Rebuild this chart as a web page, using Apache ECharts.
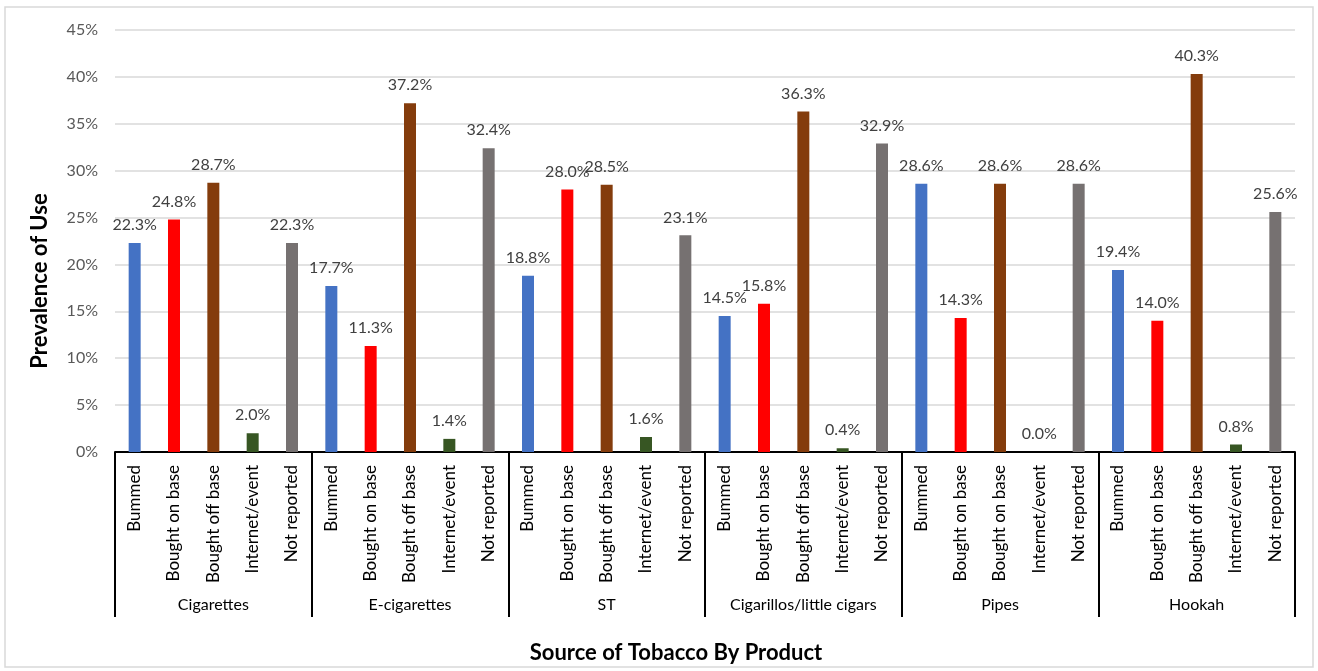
<!DOCTYPE html>
<html>
<head>
<meta charset="utf-8">
<script src="https://cdn.jsdelivr.net/npm/echarts@6/dist/echarts.min.js"></script>
<style>
  html, body { margin: 0; padding: 0; background: #fff; }
  #chart { width: 1318px; height: 671px; }
</style>
</head>
<body>
<div id="chart"></div>
<script>
// product groups and the five sources shown under each
var products = ['Cigarettes', 'E-cigarettes', 'ST', 'Cigarillos/little cigars', 'Pipes', 'Hookah'];
var sources = ['Bummed', 'Bought on base', 'Bought off base', 'Internet/event', 'Not reported'];
// the original chart repeats "Bought on base" under Pipes
var pipesSources = ['Bummed', 'Bought on base', 'Bought on base', 'Internet/event', 'Not reported'];

// prevalence (%) per source, one value per product
var bummed = [22.3, 17.7, 18.8, 14.5, 28.6, 19.4];
var boughtOnBase = [24.8, 11.3, 28.0, 15.8, 14.3, 14.0];
var boughtOffBase = [28.7, 37.2, 28.5, 36.3, 28.6, 40.3];
var internetEvent = [2.0, 1.4, 1.6, 0.4, 0.0, 0.8];
var notReported = [22.3, 32.4, 23.1, 32.9, 28.6, 25.6];

var colors = ['#4472C4', '#FF0000', '#843C0C', '#375623', '#767171'];
var FONT = 'Lato, "Open Sans", sans-serif';

var bySource = [bummed, boughtOnBase, boughtOffBase, internetEvent, notReported];
var cats = [];
var barData = [];
for (var p = 0; p < products.length; p++) {
    var names = products[p] == 'Pipes' ? pipesSources : sources;
    for (var s = 0; s < sources.length; s++) {
        cats.push(names[s]);
        barData.push({
            value: bySource[s][p],
            itemStyle: { color: colors[s] }
        });
    }
}

var myChart = echarts.init(document.getElementById('chart'));
var option = {
    animation: false,
    textStyle: { fontFamily: FONT },
    grid: { left: 115, right: 23, top: 30, bottom: 219, containLabel: false },
    graphic: [
        {
            type: 'rect',
            shape: { x: 5, y: 7, width: 1308, height: 660 },
            style: { fill: 'none', stroke: '#d9d9d9', lineWidth: 1.5 }
        },
        {
            type: 'text',
            x: 676,
            y: 653,
            style: {
                text: 'Source of Tobacco By Product',
                font: 'bold 22px ' + FONT,
                fill: '#000',
                align: 'center',
                verticalAlign: 'middle'
            }
        },
        {
            type: 'text',
            x: 40,
            y: 281,
            rotation: Math.PI / 2,
            style: {
                text: 'Prevalence of Use',
                font: 'bold 22px ' + FONT,
                fill: '#000',
                align: 'center',
                verticalAlign: 'middle'
            }
        }
    ],
    xAxis: [
        {
            type: 'category',
            data: cats,
            axisLine: { lineStyle: { color: '#000', width: 2 } },
            axisTick: { show: false },
            axisLabel: {
                rotate: 90,
                interval: 0,
                margin: 13,
                color: '#000',
                fontSize: 17,
                fontFamily: FONT
            }
        },
        {
            type: 'category',
            data: products,
            position: 'bottom',
            axisLine: { show: false },
            axisTick: {
                show: true,
                interval: 0,
                length: 165,
                lineStyle: { color: '#000', width: 2 }
            },
            axisLabel: {
                interval: 0,
                margin: 145,
                color: '#000',
                fontSize: 16,
                fontFamily: FONT
            },
            splitLine: { show: false }
        }
    ],
    yAxis: {
        type: 'value',
        min: 0,
        max: 45,
        interval: 5,
        axisLine: { show: false },
        axisTick: { show: false },
        axisLabel: {
            formatter: '{value}%',
            color: '#595959',
            fontSize: 16,
            margin: 17,
            fontFamily: FONT
        },
        splitLine: { lineStyle: { color: '#d9d9d9', width: 1.5 } }
    },
    series: [
        {
            type: 'bar',
            xAxisIndex: 0,
            data: barData,
            barWidth: 12,
            label: {
                show: true,
                position: 'top',
                distance: 10,
                color: '#404040',
                fontSize: 16,
                fontFamily: FONT,
                formatter: function (p) { return p.value.toFixed(1) + '%'; }
            }
        }
    ]
};
myChart.setOption(option);
</script>
</body>
</html>
